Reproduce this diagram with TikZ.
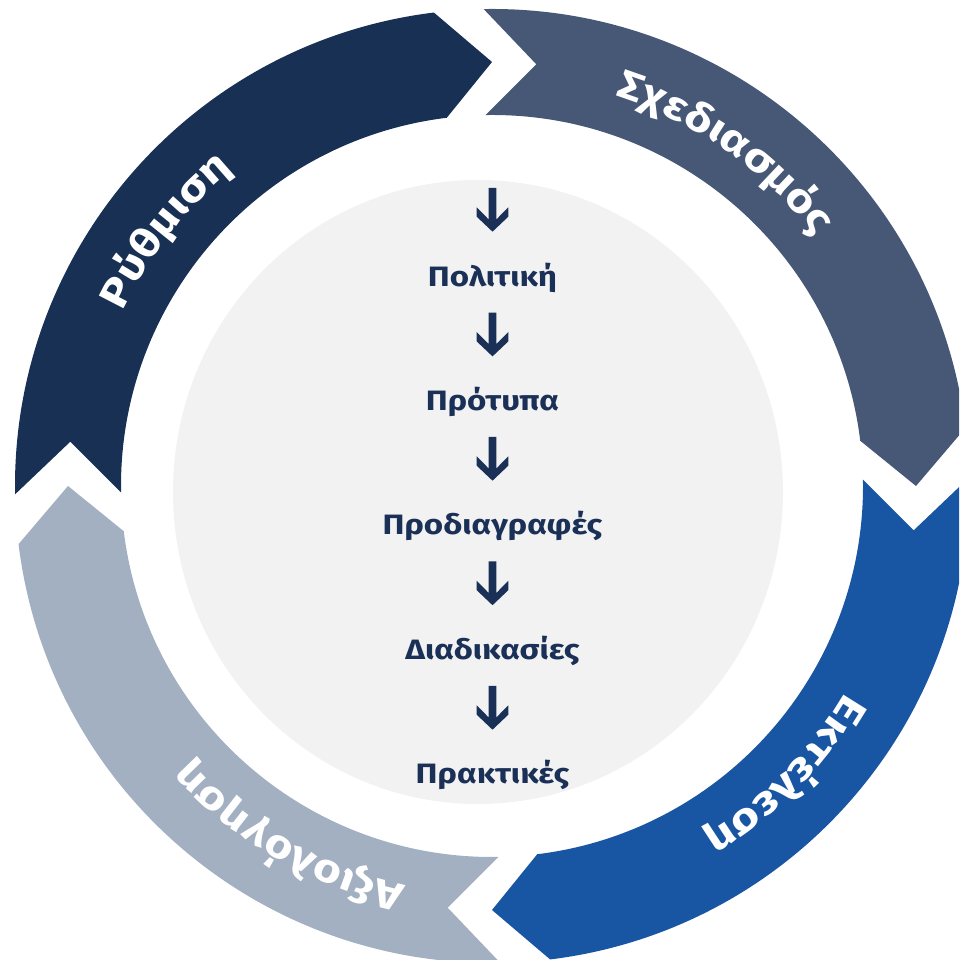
\documentclass[tikz,border=0pt]{standalone}
\usepackage{fontspec}
\setmainfont{Fira Sans}
\newfontfamily\ringfont{Fira Sans}[FakeStretch=1.2, LetterSpace=12]
\newfontfamily\ctrfont{Fira Sans}[FakeStretch=1.18]
\usetikzlibrary{calc,decorations.text}
\definecolor{cRyth}{HTML}{183054}
\definecolor{cSched}{HTML}{465876}
\definecolor{cExec}{HTML}{1856A3}
\definecolor{cEval}{HTML}{A2B0C2}
\definecolor{cCirc}{HTML}{F2F2F2}
\definecolor{txtcol}{HTML}{1B3057}
\newcommand{\ringseg}[2]{%
  \fill[#2] ($(C)+({#1+1}:477pt)$) arc[start angle={#1+1}, end angle={#1-83}, radius=477pt]
    -- ($(C)+({#1-90}:424pt)$) -- ($(C)+({#1-83}:371pt)$)
    arc[start angle={#1-83}, end angle={#1+1}, radius=371pt]
    -- ($(C)+({#1-6}:424pt)$) -- cycle;}
\newcommand{\ringlabel}[2]{%
  \path[decorate, decoration={text along path, text align=center,
    text={|\ringfont\bfseries\fontsize{40}{40}\selectfont\color{white}|#2}}]
    ($(C)+({#1+50}:409pt)$) arc[start angle={#1+50}, end angle={#1-50}, radius=409pt];}
\newcommand{\dnarrow}[1]{%
  \fill[txtcol, shift={(#1)}] (-3.8,0) -- (3.8,0) -- (3.8,-31.5) -- (15.8,-19.3) -- (15.8,-28.7)
    -- (0,-43.7) -- (-15.8,-28.7) -- (-15.8,-19.3) -- (-3.8,-31.5) -- cycle;}
\tikzset{ctext/.style={font=\ctrfont\bfseries\fontsize{28}{28}\selectfont, text=txtcol, inner sep=0pt, anchor=base}}
\begin{document}
\begin{tikzpicture}[x=1pt,y=1pt]
\useasboundingbox (0,0) rectangle (959,960);
\clip (0,0) rectangle (959,960);
\coordinate (C) at (492,474);
% center disc
\fill[cCirc] (478,468) ellipse [x radius=305pt, y radius=312pt];
% ring segments
\ringseg{180}{cRyth}
\ringseg{90}{cSched}
\ringseg{0}{cExec}
\ringseg{270}{cEval}
% ring labels
\ringlabel{142}{Ρύθμιση}
\ringlabel{55}{Σχεδιασμός}
\ringlabel{-44.5}{Εκτέλεση}
\ringlabel{240}{Αξιολόγηση}
% center column
\coordinate (a1) at (492.5,772);
\coordinate (a2) at (492.5,647.3);
\coordinate (a3) at (492.5,523);
\coordinate (a4) at (492.5,398.5);
\coordinate (a5) at (492.5,274);
\node[ctext] (t1) at (492.5,673.3) {Πολιτική};
\node[ctext] (t2) at (492.5,549.3) {Πρότυπα};
\node[ctext] (t3) at (492.5,425) {Προδιαγραφές};
\node[ctext] (t4) at (492.5,300.7) {Διαδικασίες};
\node[ctext] (t5) at (492.5,176.3) {Πρακτικές};
\dnarrow{a1}
\dnarrow{a2}
\dnarrow{a3}
\dnarrow{a4}
\dnarrow{a5}
\end{tikzpicture}
\end{document}
